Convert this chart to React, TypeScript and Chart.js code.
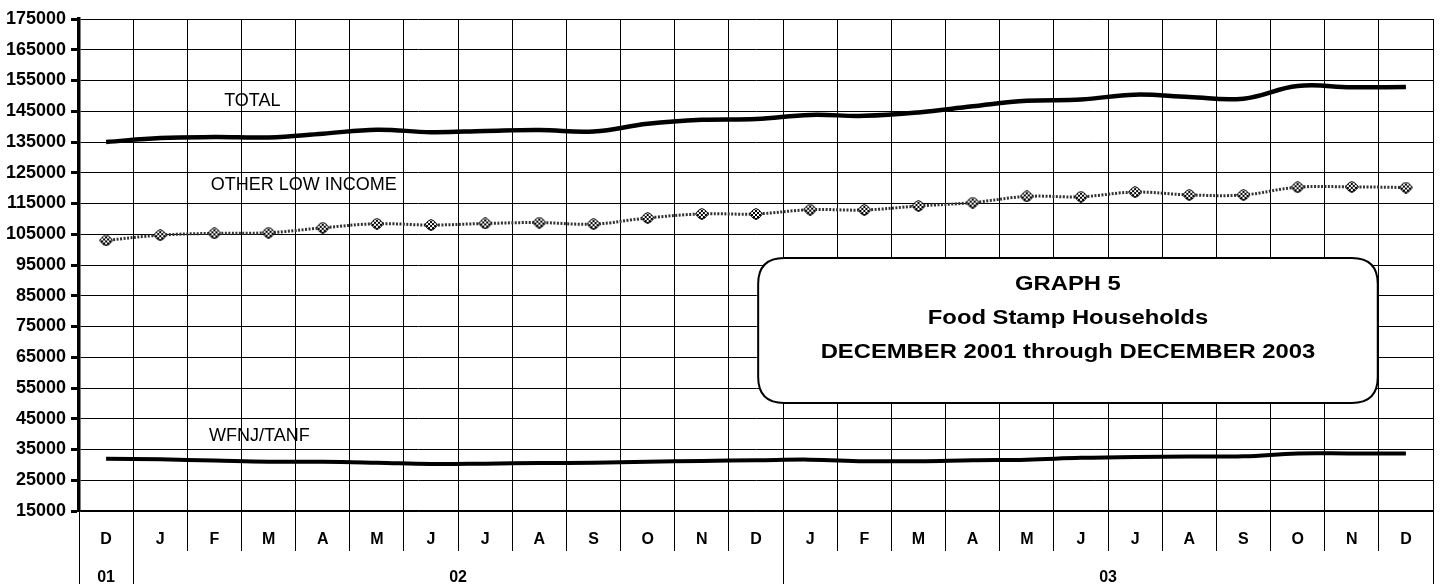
import React, { useEffect, useRef } from 'react';
import { Chart, registerables } from 'chart.js';

Chart.register(...registerables);

const MONTHS = ['D', 'J', 'F', 'M', 'A', 'M', 'J', 'J', 'A', 'S', 'O', 'N', 'D', 'J', 'F', 'M', 'A', 'M', 'J', 'J', 'A', 'S', 'O', 'N', 'D'];
const YEAR_LABELS = ['01', '02', '03'];
const YEAR_SPANS = [1, 12, 12];
const Y_TICKS = [15000, 25000, 35000, 45000, 55000, 65000, 75000, 85000, 95000, 105000, 115000, 125000, 135000, 145000, 155000, 165000, 175000];

const TOTAL = [135000, 136300, 136600, 136500, 137700, 139000, 138200, 138600, 138900, 138400, 140900, 142200, 142500, 143800, 143500, 144600, 146600, 148400, 148800, 150400, 149600, 149100, 153200, 152800, 152900];
const OTHER_LOW_INCOME = [103000, 104700, 105300, 105500, 107100, 108400, 108000, 108500, 108800, 108300, 110300, 111600, 111600, 113000, 112900, 114200, 115300, 117300, 117200, 118700, 117800, 117800, 120300, 120400, 120200];
const WFNJ_TANF = [32000, 31800, 31400, 31000, 31000, 30700, 30300, 30400, 30600, 30700, 31000, 31300, 31500, 31700, 31200, 31200, 31500, 31700, 32300, 32600, 32700, 32800, 33700, 33700, 33700];

const SERIES_NAMES = ['TOTAL', 'OTHER LOW INCOME', 'WFNJ/TANF'];
const TITLE_LINES = ['GRAPH 5', 'Food Stamp Households', 'DECEMBER 2001 through DECEMBER 2003'];

const FONT = "Arial, 'Liberation Sans', Helvetica, sans-serif";

function makeMarker(): HTMLCanvasElement {
  const c = document.createElement('canvas');
  c.width = 14;
  c.height = 12;
  const ctx = c.getContext('2d')!;
  ctx.beginPath();
  ctx.moveTo(7, 0.5);
  ctx.lineTo(10, 2);
  ctx.lineTo(13.5, 6);
  ctx.lineTo(10, 10);
  ctx.lineTo(7, 11.5);
  ctx.lineTo(4, 10);
  ctx.lineTo(0.5, 6);
  ctx.lineTo(4, 2);
  ctx.closePath();
  ctx.save();
  ctx.clip();
  ctx.fillStyle = '#fff';
  ctx.fillRect(0, 0, 14, 12);
  ctx.fillStyle = '#000';
  for (let y = 0; y < 12; y += 2) {
    for (let x = 0; x < 14; x += 2) {
      if (((x + y) / 2) % 2 === 0) ctx.fillRect(x, y, 2, 2);
    }
  }
  ctx.restore();
  ctx.lineWidth = 1;
  ctx.strokeStyle = '#000';
  ctx.stroke();
  return c;
}

export default function App() {
  const ref = useRef<HTMLCanvasElement>(null);

  useEffect(() => {
    const canvas = ref.current!;
    const marker = makeMarker();

    const overlay = {
      id: 'overlay',
      afterDraw(chart: any) {
        const { ctx, chartArea, scales } = chart;
        const xs = scales.x;
        const ys = scales.y;
        const half = (xs.getPixelForValue(1) - xs.getPixelForValue(0)) / 2;
        ctx.save();

        // year row
        ctx.strokeStyle = '#000';
        ctx.lineWidth = 1;
        ctx.fillStyle = '#000';
        ctx.font = `bold 16px ${FONT}`;
        ctx.textAlign = 'center';
        ctx.textBaseline = 'middle';
        let idx = 0;
        const bounds: number[] = [xs.getPixelForValue(0) - half];
        YEAR_LABELS.forEach((lab, i) => {
          const start = xs.getPixelForValue(idx) - half;
          const end = xs.getPixelForValue(idx + YEAR_SPANS[i] - 1) + half;
          bounds.push(end);
          ctx.fillText(lab, (start + end) / 2, chartArea.bottom + 67);
          idx += YEAR_SPANS[i];
        });
        bounds.forEach((bx) => {
          ctx.beginPath();
          ctx.moveTo(Math.round(bx) + 0.5, chartArea.bottom);
          ctx.lineTo(Math.round(bx) + 0.5, chart.height);
          ctx.stroke();
        });

        // series annotations
        ctx.font = `18px ${FONT}`;
        ctx.fillText(SERIES_NAMES[0], xs.getPixelForValue(2.7), ys.getPixelForValue(148400));
        ctx.fillText(SERIES_NAMES[1], xs.getPixelForValue(3.65), ys.getPixelForValue(121000));
        ctx.fillText(SERIES_NAMES[2], xs.getPixelForValue(2.83), ys.getPixelForValue(39400));

        // title box
        const bl = xs.getPixelForValue(12.04);
        const br = xs.getPixelForValue(23.48);
        const bt = ys.getPixelForValue(97280);
        const bb = ys.getPixelForValue(50120);
        const r = 26;
        ctx.beginPath();
        ctx.moveTo(bl + r, bt);
        ctx.lineTo(br - r, bt);
        ctx.quadraticCurveTo(br, bt, br, bt + r);
        ctx.lineTo(br, bb - r);
        ctx.quadraticCurveTo(br, bb, br - r, bb);
        ctx.lineTo(bl + r, bb);
        ctx.quadraticCurveTo(bl, bb, bl, bb - r);
        ctx.lineTo(bl, bt + r);
        ctx.quadraticCurveTo(bl, bt, bl + r, bt);
        ctx.closePath();
        ctx.fillStyle = '#fff';
        ctx.fill();
        ctx.lineWidth = 2;
        ctx.strokeStyle = '#000';
        ctx.stroke();
        ctx.fillStyle = '#000';
        ctx.font = `bold 20px ${FONT}`;
        const cx = (bl + br) / 2;
        const sx = 1.19;
        TITLE_LINES.forEach((t, i) => {
          ctx.save();
          ctx.translate(cx, bt + 26.5 + i * 33.8);
          ctx.scale(sx, 1);
          ctx.fillText(t, 0, 0);
          ctx.restore();
        });
        ctx.restore();
      },
    };

    const chart = new Chart(canvas, {
      type: 'line',
      data: {
        labels: MONTHS,
        datasets: [
          {
            label: SERIES_NAMES[0],
            data: TOTAL,
            borderColor: '#000',
            borderWidth: 4.5,
            tension: 0.4,
            pointRadius: 0,
            fill: false,
          },
          {
            label: SERIES_NAMES[1],
            data: OTHER_LOW_INCOME,
            borderColor: '#333',
            borderWidth: 3,
            borderDash: [2, 1.5],
            tension: 0.4,
            pointStyle: marker as any,
            pointRadius: 6,
            fill: false,
          },
          {
            label: SERIES_NAMES[2],
            data: WFNJ_TANF,
            borderColor: '#000',
            borderWidth: 4,
            tension: 0.4,
            pointRadius: 0,
            fill: false,
          },
        ],
      },
      options: {
        responsive: false,
        animation: false,
        layout: { padding: { top: 19, right: 16, left: 0, bottom: 0 } },
        plugins: { legend: { display: false }, tooltip: { enabled: false }, title: { display: false } },
        scales: {
          x: {
            type: 'category',
            offset: true,
            grid: {
              offset: true,
              color: '#000',
              lineWidth: 1,
              drawTicks: true,
              tickLength: 40,
              tickColor: '#000',
              tickWidth: 1,
            },
            border: { display: true, color: '#000', width: 1.5 },
            ticks: {
              color: '#000',
              font: { family: FONT, size: 16, weight: 'bold' },
              padding: -21,
              maxRotation: 0,
              autoSkip: false,
            },
            afterFit: (scale: any) => {
              scale.height = 73;
            },
          },
          y: {
            min: 15000,
            max: 175000,
            afterBuildTicks: (scale: any) => {
              scale.ticks = Y_TICKS.map((v) => ({ value: v }));
            },
            grid: {
              color: '#000',
              lineWidth: 1,
              drawTicks: true,
              tickLength: 8,
              tickColor: '#000',
              tickWidth: 3,
            },
            border: { display: true, color: '#000', width: 3.5 },
            ticks: {
              color: '#000',
              font: { family: FONT, size: 18, weight: 'bold' },
              padding: 5,
              callback: (v: any) => String(v),
            },
            afterFit: (scale: any) => {
              scale.width = 79;
            },
          },
        },
      },
      plugins: [overlay],
    });
    return () => chart.destroy();
  }, []);

  return (
    <div style={{ position: 'absolute', left: 0, top: 0, width: 1449, height: 584, background: '#fff' }}>
      <canvas ref={ref} width={1449} height={584} style={{ display: 'block' }} />
    </div>
  );
}
